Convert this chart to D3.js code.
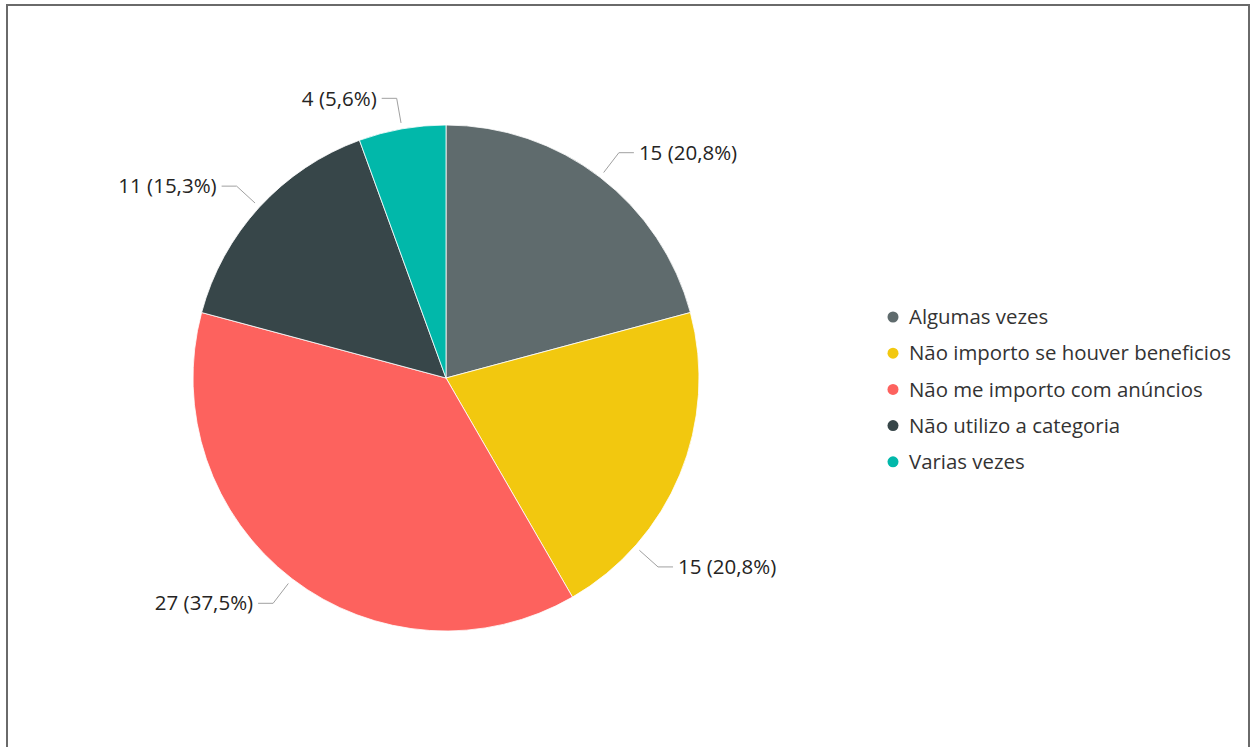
<!DOCTYPE html>
<html>
<head>
<meta charset="utf-8">
<script src="https://cdn.jsdelivr.net/npm/d3@7"></script>
<style>
  html, body { margin: 0; padding: 0; background: #fff; }
  svg { display: block; font-family: "Segoe UI", "Open Sans", "Noto Sans", sans-serif; }
</style>
</head>
<body>
<svg id="chart" width="1257" height="747"></svg>
<script>
// Survey answers and their counts
const categories = [
  "Algumas vezes",
  "Não importo se houver beneficios",
  "Não me importo com anúncios",
  "Não utilizo a categoria",
  "Varias vezes"
];
const counts = [15, 15, 27, 11, 4];
const sliceColors = ["#5F6B6D", "#F2C80F", "#FD625E", "#374649", "#01B8AA"];
// Where along each slice the label leader attaches (0 = start, 1 = end)
const leaderAnchor = [0.5, 0.756, 0.5, 0.5, 0.5];

const width = 1257, height = 747;
const cx = 446, cy = 378, radius = 253;

const svg = d3.select("#chart");

// Frame
svg.append("rect")
  .attr("x", 7).attr("y", 5)
  .attr("width", 1242).attr("height", 760)
  .attr("fill", "none")
  .attr("stroke", "#6a6a6a")
  .attr("stroke-width", 2);

const total = d3.sum(counts);
const data = categories.map((c, i) => ({ name: c, value: counts[i], color: sliceColors[i], anchor: leaderAnchor[i] }));

const pie = d3.pie().value(d => d.value).sort(null);
const arcs = pie(data);
const arc = d3.arc().innerRadius(0).outerRadius(radius);

const g = svg.append("g").attr("transform", `translate(${cx},${cy})`);

g.selectAll("path.slice")
  .data(arcs)
  .join("path")
  .attr("class", "slice")
  .attr("d", arc)
  .attr("fill", d => d.data.color)
  .attr("stroke", "#fff")
  .attr("stroke-width", 0.8);

// Outside labels with leader lines
const fmt = v => (v * 100).toFixed(1).replace(".", ",");
const polar = (a, r) => [r * Math.sin(a), -r * Math.cos(a)];

arcs.forEach(d => {
  const a = d.startAngle + (d.endAngle - d.startAngle) * d.data.anchor;
  const p0 = polar(a, radius + 6);
  const p1 = polar(a, radius + 31);
  const right = Math.sin(a) >= 0;
  const p2 = [p1[0] + (right ? 15 : -15), p1[1]];
  g.append("polyline")
    .attr("points", [p0, p1, p2].map(p => p.join(",")).join(" "))
    .attr("fill", "none")
    .attr("stroke", "#a0a0a0")
    .attr("stroke-width", 1);
  g.append("text")
    .attr("x", p2[0] + (right ? 5 : -5))
    .attr("y", p2[1])
    .attr("dy", "0.35em")
    .attr("text-anchor", right ? "start" : "end")
    .attr("font-size", 20.5)
    .attr("fill", "#252423")
    .text(`${d.data.value} (${fmt(d.data.value / total)}%)`);
});

// Legend
const legend = svg.append("g").attr("transform", "translate(893,317)");
const rows = legend.selectAll("g")
  .data(data)
  .join("g")
  .attr("transform", (d, i) => `translate(0,${i * 36.2})`);
rows.append("circle")
  .attr("r", 5.5)
  .attr("fill", d => d.color);
rows.append("text")
  .attr("x", 16)
  .attr("dy", "0.35em")
  .attr("font-size", 20.4)
  .attr("fill", "#333")
  .text(d => d.name);
</script>
</body>
</html>
